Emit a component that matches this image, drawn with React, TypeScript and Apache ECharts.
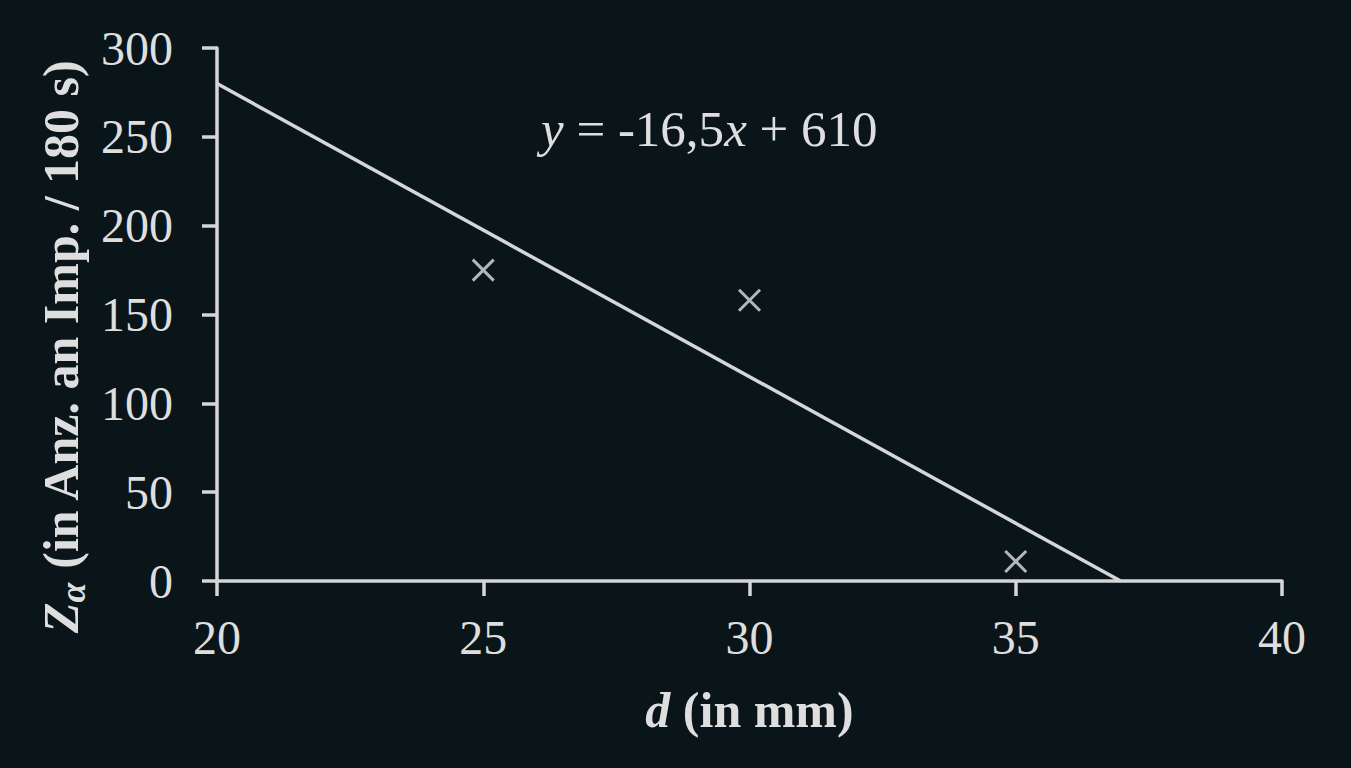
import React from 'react';
import { useEffect, useRef } from 'react';
import * as echarts from 'echarts';

// Messpunkte
const dValues = [25, 30, 35];
const zValues = [175, 158, 11];

// Ausgleichsgerade y = -16,5x + 610 (Endpunkte aus dem Bild)
const fitLine = [
  [20, 280],
  [36.97, 0],
];

const xTicks = { min: 20, max: 40, interval: 5 };
const yTicks = { min: 0, max: 300, interval: 50 };

const FG = '#dedede';
const AXIS = '#d6d6d6';
const FONT = '"Liberation Serif", "DejaVu Serif", serif';

const App: React.FC = () => {
  const chartRef = useRef<HTMLDivElement>(null);

  useEffect(() => {
    if (!chartRef.current) return;
    const chart = echarts.init(chartRef.current, undefined, { renderer: 'svg' });

    const option = {
      animation: false,
      backgroundColor: '#0a1519',
      textStyle: { fontFamily: FONT, color: FG },
      grid: { left: 217, right: 69, top: 48, bottom: 187 },
      xAxis: {
        type: 'value',
        ...xTicks,
        name: '{i|d}{b| (in mm)}',
        nameLocation: 'middle',
        nameGap: 104,
        nameTextStyle: {
          color: FG,
          rich: {
            i: { fontFamily: FONT, fontSize: 50, fontWeight: 'bold', fontStyle: 'italic', color: FG },
            b: { fontFamily: FONT, fontSize: 50, fontWeight: 'bold', color: FG },
          },
        },
        axisLine: { show: true, lineStyle: { color: AXIS, width: 3.5 } },
        axisTick: { show: true, length: 15, lineStyle: { color: AXIS, width: 3.5 } },
        axisLabel: { color: FG, fontFamily: FONT, fontSize: 48, margin: 32 },
        splitLine: { show: false },
      },
      yAxis: {
        type: 'value',
        ...yTicks,
        axisLine: { show: true, lineStyle: { color: AXIS, width: 3.5 } },
        axisTick: { show: true, length: 15, lineStyle: { color: AXIS, width: 3.5 } },
        axisLabel: { color: FG, fontFamily: FONT, fontSize: 48, margin: 44 },
        splitLine: { show: false },
      },
      graphic: [
        {
          // y-Achsentitel, gedreht
          type: 'text',
          x: 61,
          y: 346,
          rotation: Math.PI / 2,
          style: {
            text: '{z|Z}{s|α}{b| (in Anz. an Imp. / 180 s)}',
            align: 'center',
            verticalAlign: 'middle',
            fill: FG,
            rich: {
              z: { fontFamily: FONT, fontSize: 50, fontWeight: 'bold', fontStyle: 'italic', fill: FG },
              s: {
                fontFamily: FONT,
                fontSize: 36,
                fontWeight: 'bold',
                fontStyle: 'italic',
                fill: FG,
                verticalAlign: 'bottom',
                padding: [24, 0, 0, 0],
              },
              b: { fontFamily: FONT, fontSize: 50, fontWeight: 'bold', fill: FG },
            },
          },
        },
        {
          // Gleichung der Ausgleichsgeraden
          type: 'text',
          left: 541,
          top: 103,
          style: {
            text: '{i|y} = -16,5{i|x} + 610',
            fill: FG,
            fontFamily: FONT,
            fontSize: 51,
            rich: {
              i: { fontFamily: FONT, fontSize: 51, fontStyle: 'italic', fill: FG },
            },
          },
        },
      ],
      series: [
        {
          type: 'line',
          data: fitLine,
          showSymbol: false,
          symbol: 'none',
          lineStyle: { color: AXIS, width: 3.5 },
          z: 2,
        },
        {
          type: 'scatter',
          data: dValues.map((d, i) => [d, zValues[i]]),
          symbol: 'path://M0,0L10,10M10,0L0,10',
          symbolSize: 21,
          itemStyle: { color: 'none', borderColor: FG, borderWidth: 3 },
          z: 3,
        },
      ],
    };

    chart.setOption(option);

    return () => {
      chart.dispose();
    };
  }, []);

  return (
    <div
      ref={chartRef}
      style={{ position: 'absolute', left: 0, top: 0, width: '1351px', height: '768px' }}
    ></div>
  );
};

export default App;
